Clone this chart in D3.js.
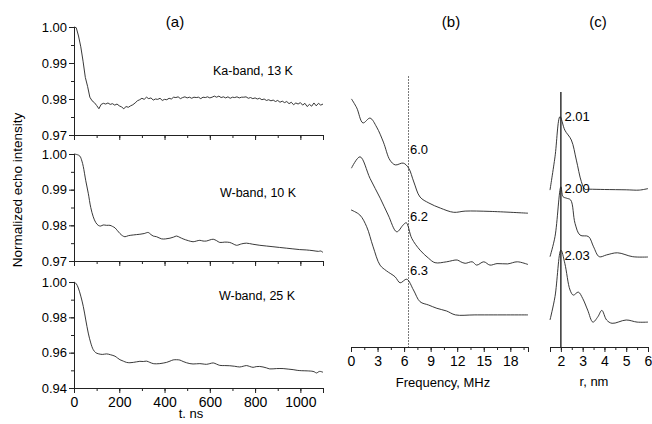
<!DOCTYPE html>
<html><head><meta charset="utf-8">
<script src="https://cdn.jsdelivr.net/npm/d3@7"></script>
<style>body{margin:0;background:#fff}svg{display:block;font-family:"Liberation Sans",Arial,sans-serif}</style>
</head><body><svg id="c" width="652" height="424"></svg>
<script>
// ---------- DATA ----------
const timeTicks = [0,200,400,600,800,1000];
const kaBand13K = [[0,1.0000],[10,0.9998],[20,0.9975],[30,0.9945],[40,0.9905],[50,0.9860],[60,0.9835],[70,0.9805],[80,0.9795],[90,0.9790],[100,0.9782],[110,0.9773],[120,0.9785],[130,0.9788],[140,0.9786],[150,0.9789],[160,0.9785],[170,0.9787],[180,0.9783],[190,0.9786],[200,0.9781],[210,0.9778],[220,0.9773],[230,0.9779],[240,0.9777],[250,0.9781],[260,0.9784],[270,0.9789],[280,0.9795],[290,0.9798],[300,0.9802],[310,0.9799],[320,0.9805],[330,0.9801],[340,0.9803],[350,0.9797],[360,0.9800],[370,0.9799],[380,0.9802],[390,0.9796],[400,0.9799],[410,0.9798],[420,0.9802],[430,0.9800],[440,0.9805],[450,0.9804],[460,0.9806],[470,0.9801],[480,0.9804],[490,0.9806],[500,0.9803],[510,0.9805],[520,0.9802],[530,0.9805],[540,0.9804],[550,0.9805],[560,0.9801],[570,0.9805],[580,0.9804],[590,0.9806],[600,0.9803],[610,0.9805],[620,0.9808],[630,0.9805],[640,0.9808],[650,0.9804],[660,0.9806],[670,0.9803],[680,0.9806],[690,0.9802],[700,0.9805],[710,0.9804],[720,0.9806],[730,0.9803],[740,0.9805],[750,0.9805],[760,0.9806],[770,0.9802],[780,0.9804],[790,0.9801],[800,0.9803],[810,0.9800],[820,0.9802],[830,0.9798],[840,0.9800],[850,0.9796],[860,0.9798],[870,0.9795],[880,0.9797],[890,0.9793],[900,0.9796],[910,0.9791],[920,0.9794],[930,0.9790],[940,0.9793],[950,0.9787],[960,0.9791],[970,0.9784],[980,0.9789],[990,0.9786],[1000,0.9790],[1010,0.9783],[1020,0.9788],[1030,0.9779],[1040,0.9785],[1050,0.9780],[1060,0.9789],[1070,0.9781],[1080,0.9788],[1090,0.9783],[1100,0.9786]];
const wBand10K = [[0,1.0000],[15,0.9998],[26,0.9994],[35,0.9980],[41,0.9965],[52,0.9925],[63,0.9890],[74,0.9850],[85,0.9824],[96,0.9808],[107,0.9800],[118,0.9798],[129,0.9801],[144,0.9800],[159,0.9800],[170,0.9797],[181,0.9793],[192,0.9785],[203,0.9777],[214,0.9771],[225,0.9768],[240,0.9771],[262,0.9773],[276,0.9774],[291,0.9775],[310,0.9777],[328,0.9780],[340,0.9774],[350,0.9770],[365,0.9768],[387,0.9762],[405,0.9762],[424,0.9764],[440,0.9767],[453,0.9770],[468,0.9766],[482,0.9762],[505,0.9757],[526,0.9754],[541,0.9756],[556,0.9758],[570,0.9756],[585,0.9756],[600,0.9759],[615,0.9761],[630,0.9757],[644,0.9752],[666,0.9753],[688,0.9752],[703,0.9748],[718,0.9744],[740,0.9748],[762,0.9750],[790,0.9747],[821,0.9744],[850,0.9742],[879,0.9740],[908,0.9738],[938,0.9736],[967,0.9734],[997,0.9732],[1026,0.9731],[1056,0.9729],[1080,0.9727],[1090,0.9728],[1100,0.9724]];
const wBand25K = [[0,1.0000],[10,0.9990],[19,0.9966],[30,0.9920],[41,0.9862],[52,0.9785],[63,0.9711],[74,0.9655],[85,0.9617],[96,0.9600],[107,0.9594],[125,0.9590],[144,0.9593],[162,0.9588],[181,0.9580],[192,0.9570],[203,0.9560],[218,0.9552],[232,0.9545],[247,0.9543],[262,0.9545],[276,0.9548],[291,0.9551],[306,0.9550],[321,0.9552],[335,0.9545],[350,0.9538],[365,0.9537],[379,0.9538],[394,0.9541],[409,0.9545],[424,0.9552],[438,0.9559],[453,0.9560],[468,0.9558],[482,0.9550],[497,0.9543],[512,0.9538],[526,0.9536],[541,0.9537],[556,0.9538],[570,0.9536],[585,0.9534],[600,0.9538],[615,0.9542],[630,0.9535],[644,0.9528],[666,0.9527],[688,0.9526],[710,0.9523],[732,0.9519],[747,0.9523],[762,0.9527],[776,0.9522],[791,0.9517],[805,0.9521],[820,0.9522],[835,0.9519],[850,0.9514],[865,0.9508],[895,0.9510],[924,0.9510],[946,0.9507],[968,0.9504],[986,0.9500],[1004,0.9498],[1030,0.9497],[1056,0.9494],[1064,0.9490],[1071,0.9485],[1085,0.9494],[1100,0.9489]];
const panelALabels = ["Ka-band, 13 K","W-band, 10 K","W-band, 25 K"];
const topYTicks = [0.97,0.98,0.99,1.00];
const botYTicks = [0.94,0.96,0.98,1.00];

const freqTicks = [0,3,6,9,12,15,18];
const spec60 = [[0.05,82.7],[0.65,79.7],[1.35,74.7],[2.15,76.3],[2.9,73.3],[3.66,68.3],[4.4,62.3],[5.0,60.7],[5.9,61.3],[6.5,59.7],[7.1,55.0],[7.8,50.0],[8.8,48.0],[10.1,46.3],[11.6,44.9],[12.9,45.3],[15.7,45.2],[20,44.6]];
const spec62 = [[0.05,59.6],[1.02,63.4],[2.15,56.2],[3.3,49.6],[4.2,44.0],[5.17,38.4],[5.9,40.7],[6.25,41.4],[6.87,36.2],[7.8,32.3],[8.76,29.6],[9.5,28.1],[10.8,28.4],[12.0,29.0],[12.4,28.4],[12.9,27.9],[13.7,28.4],[14.2,27.3],[15.0,28.4],[15.7,27.3],[16.5,27.8],[17.7,27.7],[18.8,28.4],[20,27.5]];
const spec63 = [[0,45.7],[1.0,44.0],[1.77,40.1],[2.5,33.4],[3.28,27.3],[4.0,25.4],[4.98,23.4],[5.55,21.4],[6.3,22.6],[7.06,19.0],[7.8,15.1],[8.76,14.0],[9.7,12.9],[10.8,12.0],[11.8,10.7],[14,10.7],[20,10.7]];
const specLabels = [["6.0",6.5,64.2],["6.2",6.5,42.0],["6.3",6.5,24.0]];
const freqMarker = 6.5;

const rTicks = [2,3,4,5,6];
const dist201 = [[1.5,52.3],[1.73,63.4],[1.96,76.8],[2.18,72.3],[2.48,69.0],[2.71,62.3],[2.94,55.1],[3.1,52.6],[3.3,52.6],[4.0,52.5],[5.0,52.4],[5.6,52.3],[6.0,52.8]];
const dist200 = [[1.5,30.1],[1.73,36.8],[2.0,53.4],[2.1,50.1],[2.26,49.6],[2.45,49.0],[2.65,41.2],[2.88,37.3],[3.27,36.8],[3.5,33.4],[3.76,30.1],[4.1,30.7],[4.6,31.4],[5.3,30.1],[6.0,30.0]];
const dist203 = [[1.5,9.0],[1.73,16.8],[2.0,32.3],[2.18,27.9],[2.42,19.0],[2.57,17.3],[2.8,18.3],[3.0,16.2],[3.23,12.3],[3.47,8.3],[3.7,10.1],[3.88,12.2],[4.1,9.0],[4.35,7.9],[5.0,9.0],[5.5,8.3],[6.0,8.3]];
const distLabels = [["2.01",2.03,75.3],["2.00",2.03,51.2],["2.03",2.03,29.0]];
const rMarker = 2.0;

// ---------- DRAW ----------
const svg = d3.select("#c");
const ink = "#222";
const fontTick = 13;

function styleAxis(g){
  g.select(".domain").attr("stroke",ink).attr("stroke-width",1);
  g.selectAll(".tick line").attr("stroke",ink);
  g.selectAll(".tick text").attr("fill","#000").style("font-family","'Liberation Sans',Arial,sans-serif");
}

// Panel (a)
const xA = d3.scaleLinear().domain([0,1100]).range([74,323]);
const subPanels = [
  {data:kaBand13K, dom:[0.97,1.00], rng:[135,27], ticks:topYTicks, minor:0.005, label:[253,75], curve:d3.curveLinear, fmt:d3.format(".2f")},
  {data:wBand10K, dom:[0.97,1.00], rng:[261,154], ticks:topYTicks, minor:0.005, label:[258,196.5], curve:d3.curveCatmullRom, fmt:d3.format(".2f")},
  {data:wBand25K, dom:[0.94,1.00], rng:[388,282], ticks:botYTicks, minor:0.01, label:[257,300], curve:d3.curveCatmullRom, fmt:d3.format(".2f")}
];
subPanels.forEach((p,i)=>{
  const y = d3.scaleLinear().domain(p.dom).range(p.rng);
  const minors = d3.range(p.dom[0], p.dom[1]+1e-9, p.minor);
  svg.append("g").attr("transform","translate(74,0)")
    .call(d3.axisLeft(y).tickValues(minors).tickSize(3).tickFormat(""))
    .call(styleAxis);
  svg.append("g").attr("transform","translate(74,0)")
    .call(d3.axisLeft(y).tickValues(p.ticks).tickSize(5).tickPadding(2).tickFormat(p.fmt))
    .call(styleAxis)
    .call(g=>g.selectAll(".tick text").style("font-size",fontTick+"px"));
  const y0 = p.rng[0];
  svg.append("g").attr("transform",`translate(0,${y0})`)
    .call(d3.axisBottom(xA).tickValues(d3.range(0,1101,100)).tickSize(3).tickFormat(""))
    .call(styleAxis);
  svg.append("g").attr("transform",`translate(0,${y0})`)
    .call(d3.axisBottom(xA).tickValues(timeTicks).tickSize(5).tickPadding(4).tickFormat(i===2?d3.format("d"):""))
    .call(styleAxis)
    .call(g=>g.selectAll(".tick text").style("font-size","14px"));
  svg.append("path").datum(p.data)
    .attr("d", d3.line().x(d=>xA(d[0])).y(d=>y(d[1])).curve(p.curve))
    .attr("fill","none").attr("stroke",ink).attr("stroke-width",0.9);
  svg.append("text").attr("x",p.label[0]).attr("y",p.label[1]).attr("text-anchor","middle")
    .style("font-size","12.5px").text(panelALabels[i]);
});
svg.append("text").attr("x",175).attr("y",27).attr("text-anchor","middle").style("font-size","15px").text("(a)");
svg.append("text").attr("x",191).attr("y",418).attr("text-anchor","middle").style("font-size","13px").text("t. ns");
svg.append("text").attr("transform","translate(22,190) rotate(-90)").attr("text-anchor","middle").style("font-size","13.5px").text("Normalized echo intensity");

// Panel (b)
const xB = d3.scaleLinear().domain([0,20]).range([351,528]);
const yB = d3.scaleLinear().domain([0,100]).range([347,47]);
svg.append("g").attr("transform","translate(0,347)")
  .call(d3.axisBottom(xB).tickValues(d3.range(0,20.01,1.5)).tickSize(3).tickFormat(""))
  .call(styleAxis);
svg.append("g").attr("transform","translate(0,347)")
  .call(d3.axisBottom(xB).tickValues(freqTicks).tickSize(5).tickPadding(4).tickFormat(d3.format("d")))
  .call(styleAxis)
  .call(g=>g.selectAll(".tick text").style("font-size","14px"));
svg.append("line").attr("x1",xB(freqMarker)).attr("x2",xB(freqMarker)).attr("y1",76).attr("y2",347)
  .attr("stroke","#555").attr("stroke-width",0.8).attr("stroke-dasharray","2,1");
[spec60,spec62,spec63].forEach(s=>{
  svg.append("path").datum(s)
    .attr("d", d3.line().x(d=>xB(d[0])).y(d=>yB(d[1])).curve(d3.curveCatmullRom))
    .attr("fill","none").attr("stroke",ink).attr("stroke-width",0.9);
});
specLabels.forEach(l=>{
  svg.append("text").attr("x",xB(l[1])+1.5).attr("y",yB(l[2])).style("font-size","13px").text(l[0]);
});
svg.append("text").attr("x",451).attr("y",27).attr("text-anchor","middle").style("font-size","15px").text("(b)");
svg.append("text").attr("x",443).attr("y",387).attr("text-anchor","middle").style("font-size","13px").text("Frequency, MHz");

// Panel (c)
const xC = d3.scaleLinear().domain([1.5,6]).range([550,648]);
const yC = d3.scaleLinear().domain([0,100]).range([347,47]);
svg.append("g").attr("transform","translate(0,347)")
  .call(d3.axisBottom(xC).tickValues(d3.range(1.5,6.01,0.5)).tickSize(3).tickFormat(""))
  .call(styleAxis);
svg.append("g").attr("transform","translate(0,347)")
  .call(d3.axisBottom(xC).tickValues(rTicks).tickSize(5).tickPadding(4).tickFormat(d3.format("d")))
  .call(styleAxis)
  .call(g=>g.selectAll(".tick text").style("font-size","14px"));
svg.append("line").attr("x1",xC(rMarker)).attr("x2",xC(rMarker)).attr("y1",92).attr("y2",347)
  .attr("stroke","#000").attr("stroke-width",1.2);
[dist201,dist200,dist203].forEach(s=>{
  svg.append("path").datum(s)
    .attr("d", d3.line().x(d=>xC(d[0])).y(d=>yC(d[1])).curve(d3.curveCatmullRom))
    .attr("fill","none").attr("stroke",ink).attr("stroke-width",0.9);
});
distLabels.forEach(l=>{
  svg.append("text").attr("x",xC(l[1])+3).attr("y",yC(l[2])).style("font-size","13px").text(l[0]);
});
svg.append("text").attr("x",598).attr("y",27).attr("text-anchor","middle").style("font-size","15px").text("(c)");
svg.append("text").attr("x",594).attr("y",386).attr("text-anchor","middle").style("font-size","13px").text("r, nm");
</script></body></html>
